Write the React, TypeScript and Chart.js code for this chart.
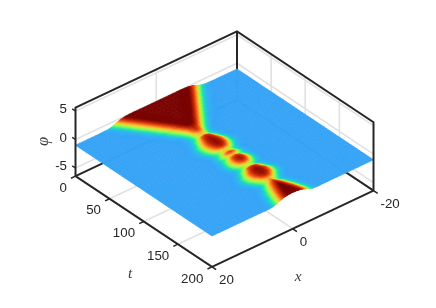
import React, { useEffect, useRef } from "react";
import { Chart, registerables } from "chart.js";

Chart.register(...registerables);

// ---- data ----
const xTicks = [-20, 0, 20];
const tTicks = [0, 50, 100, 150, 200];
const zTicks = [-5, 0, 5];
const xRange = [-20, 20];
const tRange = [0, 200];
const zRange = [-6.42, 5.6];

// time rows of the field table
const tRows = [
  0, 5, 10, 15, 20, 25, 30, 35, 40, 45, 50, 55, 60, 64, 68, 72, 76, 80, 84, 88, 92, 96, 100, 104, 108, 112, 116, 120,
  124, 128, 132, 136, 140, 144, 148, 152, 156, 160, 164, 168, 172, 176, 180, 184, 188, 192, 196, 200,
];
// field value x100 at |x| = 0, 1, 2, ...; past a row's end the field rests at -100
const phiCenti = [
  [-1, -1, -1, -1, -1, -1, -1, -4, -10, -24, -50, -82, -96, -99],
  [-1, -1, -1, -1, -1, -1, -3, -8, -19, -42, -75, -95, -99],
  [-1, -1, -1, -1, -1, -2, -6, -15, -35, -68, -92, -98],
  [-1, -1, -1, -1, -1, -5, -12, -29, -59, -88, -98, -99],
  [-1, -1, -1, -1, -4, -10, -24, -50, -82, -96, -99],
  [-1, -1, -1, -3, -8, -19, -42, -75, -95, -99],
  [-1, -1, -2, -6, -15, -35, -68, -92, -98],
  [-1, -1, -5, -12, -29, -59, -88, -98, -99],
  [-2, -4, -10, -24, -50, -82, -96, -99],
  [-6, -8, -19, -42, -75, -95, -99],
  [-10, -15, -35, -68, -92, -98],
  [-18, -29, -59, -88, -98],
  [-24, -40, -80, -96],
  [-45, -55, -85, -97, -99],
  [-50, -60, -85, -96, -99],
  [-22, -34, -72, -92, -98],
  [-16, -24, -55, -88, -98],
  [-14, -20, -42, -76, -95, -99],
  [-13, -18, -36, -71, -93, -98],
  [-13, -18, -36, -71, -93, -98],
  [-14, -20, -42, -76, -95, -99],
  [-20, -30, -58, -88, -97],
  [-55, -62, -82, -94, -99],
  [-45, -55, -80, -95],
  [-24, -35, -68, -92, -98],
  [-50, -58, -80, -94, -99],
  [-24, -34, -67, -90, -98],
  [-16, -25, -54, -86, -97],
  [-16, -25, -53, -85, -97],
  [-24, -36, -68, -92, -98],
  [-62, -68, -85, -96, -99],
  [-55, -62, -82, -95, -99],
  [-22, -30, -63, -88, -97],
  [-15, -22, -47, -80, -96, -99],
  [-13, -17, -33, -66, -90, -98],
  [-13, -17, -33, -66, -90, -98],
  [-14, -19, -38, -71, -93, -98],
  [-20, -30, -60, -88, -97],
  [-45, -54, -78, -93, -99],
  [-36, -60, -89, -98, -99],
  [-22, -44, -76, -95, -99],
  [-15, -32, -65, -90, -98],
  [-9, -24, -50, -82, -96, -99],
  [-7, -18, -41, -73, -94, -99],
  [-5, -14, -32, -65, -90, -98],
  [-4, -11, -26, -54, -84, -97],
  [-3, -9, -21, -46, -79, -96, -99],
  [-3, -8, -18, -41, -73, -94, -99],
];

const colormapStops = [
  [48, 18, 59], [70, 98, 215], [54, 170, 249], [26, 228, 182], [114, 254, 94],
  [200, 239, 52], [250, 186, 57], [246, 107, 25], [203, 42, 4], [122, 4, 3],
];

// ---- view ----
const VIEW = { ox: 75.5, oy: 139.5, tx: 0.6825, ty: 0.454, ux: 4.0375, uy: -1.905, zy: 5.7 };
const INK = "#262626";
const GRID = "#e2e2e2";
const TICK_LEN = 5;

function project(x: number, t: number, z: number) {
  const u = xRange[1] - x;
  return {
    x: VIEW.ox + VIEW.tx * t + VIEW.ux * u,
    y: VIEW.oy + VIEW.ty * t + VIEW.uy * u - VIEW.zy * z,
  };
}

function phiAt(col: number, row: number) {
  const r = phiCenti[row];
  const v = col < r.length ? r[col] : -100;
  return v / 100;
}

function colorOf(phi: number) {
  let p = 1.92 + (7.08 * (phi + 1)) / 0.9;
  p = Math.max(0, Math.min(9, p));
  const i = Math.min(8, Math.floor(p));
  const f = p - i;
  const a = colormapStops[i];
  const b = colormapStops[i + 1];
  return `rgb(${Math.round(a[0] + (b[0] - a[0]) * f)},${Math.round(a[1] + (b[1] - a[1]) * f)},${Math.round(a[2] + (b[2] - a[2]) * f)})`;
}

type P = { x: number; y: number };
function segs(list: [number, number, number][][]): P[] {
  const out: P[] = [];
  list.forEach((s) => {
    s.forEach((q) => out.push(project(q[0], q[1], q[2])));
    out.push({ x: NaN, y: NaN });
  });
  return out;
}

const [x0, x1] = xRange;
const [t0, t1] = tRange;
const [z0, z1] = zRange;

const gridSegs = segs([
  ...xTicks.filter((v) => v !== x0 && v !== x1).flatMap((v): [number, number, number][][] => [
    [[v, t0, z0], [v, t0, z1]],
    [[v, t0, z0], [v, t1, z0]],
  ]),
  ...tTicks.filter((v) => v !== t0 && v !== t1).flatMap((v): [number, number, number][][] => [
    [[x0, v, z0], [x0, v, z1]],
    [[x0, v, z0], [x1, v, z0]],
  ]),
  ...zTicks.flatMap((v): [number, number, number][][] => [
    [[x1, t0, v], [x0, t0, v]],
    [[x0, t0, v], [x0, t1, v]],
  ]),
]);

const backSegs = segs([
  [[x1, t0, z0], [x0, t0, z0], [x0, t1, z0]],
  [[x0, t0, z0], [x0, t0, z1]],
]);

const tickPts = (() => {
  const out: P[] = [];
  const add = (p: P, dx: number, dy: number) => {
    out.push(p, { x: p.x + dx, y: p.y + dy }, { x: NaN, y: NaN });
  };
  const tl = Math.hypot(VIEW.tx, VIEW.ty);
  const ul = Math.hypot(VIEW.ux, VIEW.uy);
  xTicks.forEach((v) => add(project(v, t1, z0), (VIEW.tx / tl) * TICK_LEN, (VIEW.ty / tl) * TICK_LEN));
  tTicks.forEach((v) => add(project(x1, v, z0), (-VIEW.ux / ul) * TICK_LEN, (-VIEW.uy / ul) * TICK_LEN));
  zTicks.forEach((v) => add(project(x1, t0, v), (-VIEW.tx / tl) * TICK_LEN * 0.8, (-VIEW.ty / tl) * TICK_LEN * 0.8));
  return out;
})();

const frontSegs = segs([
  [[x1, t0, z0], [x1, t1, z0], [x0, t1, z0]],
  [[x1, t0, z0], [x1, t0, z1], [x0, t0, z1], [x0, t1, z1], [x0, t1, z0]],
]);

// every table node, as the surface's dataset
const xNodes: number[] = [];
for (let v = x0; v <= x1; v++) xNodes.push(v);

const surfaceNodes = tRows.flatMap((t, r) =>
  xNodes.map((x) => ({ ...project(x, t, phiAt(Math.abs(x), r)), xv: x, tv: t, row: r })),
);

const surfacePlugin = {
  id: "surface",
  afterDatasetDraw(chart: any, args: any) {
    if (chart.data.datasets[args.index].label !== "surface") return;
    const { ctx, scales } = chart;
    const sx = (x: number, t: number, z: number) => {
      const p = project(x, t, z);
      return [scales.x.getPixelForValue(p.x), scales.y.getPixelForValue(p.y)];
    };
    ctx.save();
    ctx.lineWidth = 0.7;
    ctx.lineJoin = "round";
    for (let r = 0; r < tRows.length - 1; r++) {
      for (let c = 0; c < xNodes.length - 1; c++) {
        const xa = xNodes[c];
        const xb = xNodes[c + 1];
        const ta = tRows[r];
        const tb = tRows[r + 1];
        const v00 = phiAt(Math.abs(xa), r);
        const v10 = phiAt(Math.abs(xb), r);
        const v01 = phiAt(Math.abs(xa), r + 1);
        const v11 = phiAt(Math.abs(xb), r + 1);
        const flat = v00 === v10 && v00 === v01 && v00 === v11;
        const n = flat ? 1 : 5;
        for (let j = 0; j < n; j++) {
          for (let i = 0; i < n; i++) {
            const val = (a: number, b: number) =>
              v00 * (1 - a) * (1 - b) + v10 * a * (1 - b) + v01 * (1 - a) * b + v11 * a * b;
            const corner = (a: number, b: number) => sx(xa + (xb - xa) * a, ta + (tb - ta) * b, val(a, b));
            const a0 = i / n;
            const a1 = (i + 1) / n;
            const b0 = j / n;
            const b1 = (j + 1) / n;
            const col = colorOf(val((a0 + a1) / 2, (b0 + b1) / 2));
            const p1 = corner(a0, b0);
            const p2 = corner(a1, b0);
            const p3 = corner(a1, b1);
            const p4 = corner(a0, b1);
            ctx.beginPath();
            ctx.moveTo(p1[0], p1[1]);
            ctx.lineTo(p2[0], p2[1]);
            ctx.lineTo(p3[0], p3[1]);
            ctx.lineTo(p4[0], p4[1]);
            ctx.closePath();
            ctx.fillStyle = col;
            ctx.strokeStyle = col;
            ctx.fill();
            ctx.stroke();
          }
        }
      }
    }
    ctx.restore();
  },
  afterDraw(chart: any) {
    const { ctx, scales } = chart;
    const at = (p: P) => [scales.x.getPixelForValue(p.x), scales.y.getPixelForValue(p.y)];
    ctx.save();
    ctx.fillStyle = INK;
    ctx.font = "13.3px 'Liberation Sans'";
    ctx.textBaseline = "middle";
    ctx.textAlign = "right";
    zTicks.forEach((v) => {
      const [a, b] = at(project(x1, t0, v));
      ctx.fillText(String(v), a - 8.5, b - 1.5);
    });
    tTicks.forEach((v) => {
      const [a, b] = at(project(x1, v, z0));
      ctx.fillText(String(v), a - 8.7, b + 12);
    });
    ctx.textAlign = "left";
    xTicks.forEach((v) => {
      const [a, b] = at(project(v, t1, z0));
      ctx.fillText(String(v), a + 7, b + 13.3);
    });
    ctx.fillStyle = "#404040";
    ctx.font = "italic 15.5px 'Liberation Serif'";
    ctx.textAlign = "center";
    const tl = at(project(x1, (t0 + t1) / 2, z0));
    ctx.fillText("t", tl[0] - 13.7, tl[1] + 52.5);
    const xl = at(project((x0 + x1) / 2, t1, z0));
    ctx.fillText("x", xl[0] + 5.5, xl[1] + 48.5);
    ctx.translate(44, 141.5);
    ctx.rotate(-Math.PI / 2);
    ctx.font = "italic 16.5px 'Liberation Serif'";
    ctx.fillText("\u03c6", 0, 0);
    ctx.restore();
  },
};

export default function App() {
  const ref = useRef<HTMLCanvasElement | null>(null);
  useEffect(() => {
    if (!ref.current) return;
    const line = (label: string, data: P[], color: string, width: number, order: number) => ({
      label,
      data,
      showLine: true,
      borderColor: color,
      borderWidth: width,
      pointRadius: 0,
      tension: 0,
      clip: false as const,
      order,
    });
    const chart = new Chart(ref.current, {
      type: "scatter",
      data: {
        datasets: [
          line("grid", gridSegs, GRID, 1.7, 4),
          line("back", backSegs, INK, 2, 3),
          { ...line("surface", surfaceNodes as any, "rgba(0,0,0,0)", 0, 2), showLine: false },
          line("frame", frontSegs, INK, 2, 1),
          line("ticks", tickPts, INK, 1.5, 0),
        ],
      },
      options: {
        animation: false,
        responsive: false,
        devicePixelRatio: 1,
        layout: { padding: 0 },
        plugins: { legend: { display: false }, tooltip: { enabled: false } },
        events: [],
        scales: {
          x: { type: "linear", display: false, min: 0, max: 436 },
          y: { type: "linear", display: false, min: 0, max: 308, reverse: true },
        },
      },
      plugins: [surfacePlugin],
    });
    return () => chart.destroy();
  }, []);
  return (
    <div style={{ position: "fixed", left: 0, top: 0, width: 436, height: 308, background: "#fff" }}>
      <canvas ref={ref} width={436} height={308} style={{ display: "block" }} />
    </div>
  );
}
